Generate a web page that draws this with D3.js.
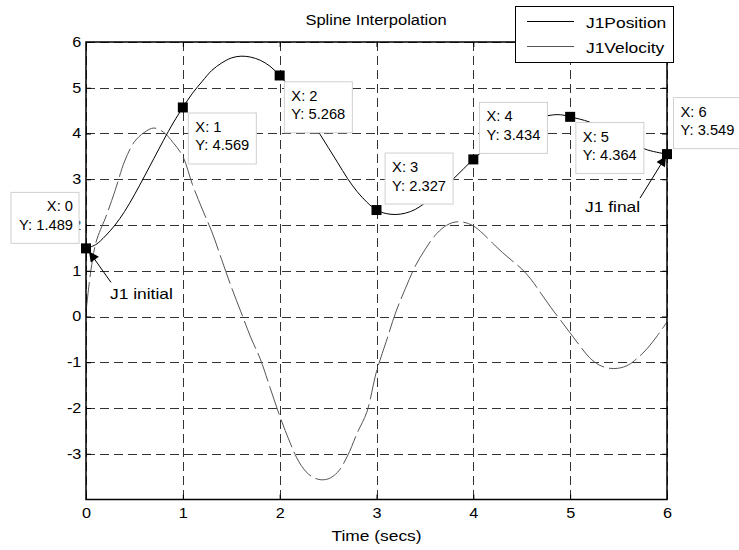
<!DOCTYPE html>
<html>
<head>
<meta charset="utf-8">
<script src="https://cdn.jsdelivr.net/npm/d3@7"></script>
<style>
  body { margin: 0; background: #fff; }
  text { font-family: "Liberation Sans", Arial, sans-serif; fill: #000; }
</style>
</head>
<body>
<svg width="739" height="550"></svg>
<script>
// knots of the spline (data tips)
const knotT = [0, 1, 2, 3, 4, 5, 6];
const knotPos = [1.489, 4.569, 5.268, 2.327, 3.434, 4.364, 3.549];

// J1Position
const posT = [0, 0.1, 0.2, 0.3, 0.4, 0.5, 0.6, 0.7, 0.8, 0.9, 1, 1.1, 1.2, 1.3, 1.4, 1.5, 1.6, 1.7, 1.8, 1.9,
  2, 2.1, 2.2, 2.3, 2.4, 2.5, 2.6, 2.7, 2.8, 2.9, 3, 3.1, 3.2, 3.3, 3.4, 3.5, 3.6, 3.7, 3.8, 3.9,
  4, 4.2, 4.4, 4.6, 4.8, 4.9, 5, 5.2, 5.4, 5.6, 5.8, 6];
const posVal = [1.489, 1.57, 1.76, 2.0, 2.3, 2.66, 3.05, 3.45, 3.85, 4.23, 4.569, 4.88, 5.14, 5.38, 5.54, 5.65, 5.69, 5.67, 5.6, 5.47,
  5.268, 5.02, 4.72, 4.38, 4.04, 3.7, 3.36, 3.02, 2.73, 2.5, 2.327, 2.25, 2.23, 2.26, 2.34, 2.48, 2.64, 2.83, 3.02, 3.23,
  3.434, 3.8, 4.1, 4.3, 4.4, 4.41, 4.364, 4.25, 4.04, 3.82, 3.64, 3.549];

// J1Velocity
const velT = [0, 0.05, 0.1, 0.15, 0.2, 0.3, 0.4, 0.5, 0.6, 0.7, 0.8, 0.9, 1, 1.1, 1.2, 1.3, 1.4, 1.5, 1.6, 1.7, 1.8, 1.9,
  2, 2.1, 2.2, 2.3, 2.4, 2.5, 2.6, 2.7, 2.8, 2.9, 3, 3.1, 3.2, 3.3, 3.4, 3.5, 3.6, 3.7, 3.8, 3.9,
  4, 4.1, 4.2, 4.3, 4.4, 4.5, 4.6, 4.7, 4.8, 4.9, 5, 5.1, 5.2, 5.3, 5.4, 5.5, 5.6, 5.7, 5.8, 5.9, 6];
const velVal = [0.1, 1.0, 1.6, 1.9, 2.15, 2.75, 3.4, 3.82, 4.02, 4.12, 4.03, 3.8, 3.5, 2.88, 2.35, 1.85, 1.25, 0.65, 0.1, -0.45, -0.93, -1.55,
  -2.17, -2.72, -3.18, -3.45, -3.56, -3.55, -3.4, -3.05, -2.55, -2.09, -1.2, -0.55, 0.1, 0.62, 1.1, 1.46, 1.76, 1.96, 2.06, 2.06,
  1.98, 1.81, 1.6, 1.4, 1.22, 1.04, 0.8, 0.5, 0.2, -0.08, -0.36, -0.64, -0.9, -1.06, -1.13, -1.13, -1.06, -0.9, -0.69, -0.42, -0.12];

const xTicks = [0, 1, 2, 3, 4, 5, 6];
const yTicks = [-3, -2, -1, 0, 1, 2, 3, 4, 5, 6];
const seriesNames = ["J1Position", "J1Velocity"];

const svg = d3.select("svg");
const x = d3.scaleLinear().domain([0, 6]).range([86, 667]);
const y = d3.scaleLinear().domain([-4, 6]).range([499.5, 42]);

const SX = 1.16; // the original text looks horizontally stretched

function label(g, px, py, str, size, anchor, sx) {
  return g.append("text")
    .attr("transform", "translate(" + px + "," + py + ") scale(" + sx + ",1)")
    .attr("text-anchor", anchor)
    .style("font-size", size + "px")
    .text(str);
}

// grid
const grid = svg.append("g").attr("stroke", "#333").attr("stroke-dasharray", "9,5").attr("stroke-width", 1);
grid.selectAll(".vg").data(xTicks).enter().append("line")
  .attr("x1", d => Math.round(x(d)) + 0.5).attr("x2", d => Math.round(x(d)) + 0.5)
  .attr("y1", y(6)).attr("y2", y(-4));
grid.selectAll(".hg").data(yTicks).enter().append("line")
  .attr("y1", d => Math.round(y(d)) + 0.5).attr("y2", d => Math.round(y(d)) + 0.5)
  .attr("x1", x(0)).attr("x2", x(6));

// curves
const line = d3.line().curve(d3.curveCatmullRom.alpha(0.5));
svg.append("path")
  .attr("d", line(velT.map((t, i) => [x(t), y(velVal[i])])))
  .attr("fill", "none").attr("stroke", "#555").attr("stroke-width", 1)
  .attr("stroke-dasharray", "30,5");
svg.append("path")
  .attr("d", line(posT.map((t, i) => [x(t), y(posVal[i])])))
  .attr("fill", "none").attr("stroke", "#000").attr("stroke-width", 1);

// axes, ticks inward on all four sides
const fmt = d => String(d);
const axL = d3.axisLeft(y).tickValues(yTicks).tickSizeInner(-5).tickSizeOuter(0).tickPadding(4).tickFormat(fmt);
const axB = d3.axisBottom(x).tickValues(xTicks).tickSizeInner(-5).tickSizeOuter(0).tickPadding(9).tickFormat(fmt);
const axR = d3.axisRight(y).tickValues(yTicks).tickSizeInner(-5).tickSizeOuter(0).tickFormat("");
const axT = d3.axisTop(x).tickValues(xTicks).tickSizeInner(-5).tickSizeOuter(0).tickFormat("");

function styleAxis(g) {
  g.select(".domain").remove();
  g.selectAll("line").attr("stroke", "#000");
  g.selectAll("text").style("font-size", "14px").attr("fill", "#000")
    .style("font-family", '"Liberation Sans", Arial, sans-serif');
}
svg.append("g").attr("transform", "translate(" + x(0) + ",0)").call(axL).call(styleAxis)
  .selectAll("text").attr("transform", "scale(" + SX + ",1)");
svg.append("g").attr("transform", "translate(0," + y(-4) + ")").call(axB).call(styleAxis)
  .selectAll("text").attr("transform", "scale(" + SX + ",1)");
svg.append("g").attr("transform", "translate(" + x(6) + ",0)").call(axR).call(styleAxis);
svg.append("g").attr("transform", "translate(0," + y(6) + ")").call(axT).call(styleAxis);

// box
svg.append("rect")
  .attr("x", x(0)).attr("y", y(6)).attr("width", x(6) - x(0)).attr("height", y(-4) - y(6))
  .attr("fill", "none").attr("stroke", "#000").attr("stroke-width", 1.5);

// knot markers
svg.selectAll(".knot").data(knotT).enter().append("rect")
  .attr("x", d => x(d) - 5).attr("y", (d, i) => y(knotPos[i]) - 5)
  .attr("width", 10).attr("height", 10).attr("fill", "#000");

// data tips: box offset from the marker
const tipOffset = [[-75, -56], [5.5, 5.5], [4.7, 6.3], [8.6, -57], [6.1, -57], [5.7, 5.7], [6.5, -56.5]];
knotT.forEach((t, i) => {
  const bx = x(t) + tipOffset[i][0], by = y(knotPos[i]) + tipOffset[i][1];
  const g = svg.append("g");
  g.append("rect").attr("x", bx).attr("y", by).attr("width", 68).attr("height", 51)
    .attr("fill", "#fff").attr("stroke", "#d0d0d0").attr("stroke-width", 1);
  const right = i === 0;
  const tx = right ? bx + 62 : bx + 7;
  const anchor = right ? "end" : "start";
  label(g, tx, by + 19, "X: " + t, 14, anchor, 1.05);
  label(g, tx, by + 37.5, "Y: " + knotPos[i].toFixed(3), 14, anchor, 1.05);
});

// annotations with arrows
svg.append("defs").append("marker")
  .attr("id", "head").attr("viewBox", "0 0 10 10").attr("refX", 10).attr("refY", 5)
  .attr("markerWidth", 13).attr("markerHeight", 10).attr("markerUnits", "userSpaceOnUse")
  .attr("orient", "auto")
  .append("path").attr("d", "M0,0 L10,5 L0,10 Z").attr("fill", "#000");

svg.append("line").attr("x1", x(0) + 25).attr("y1", y(knotPos[0]) + 34)
  .attr("x2", x(0) + 3).attr("y2", y(knotPos[0]) + 3)
  .attr("stroke", "#000").attr("stroke-width", 1).attr("marker-end", "url(#head)");
label(svg, x(0) + 24, y(knotPos[0]) + 51, "J1 initial", 15, "start", SX);

svg.append("line").attr("x1", x(6) - 27).attr("y1", y(knotPos[6]) + 44)
  .attr("x2", x(6) - 1).attr("y2", y(knotPos[6]) + 2)
  .attr("stroke", "#000").attr("stroke-width", 1).attr("marker-end", "url(#head)");
label(svg, x(6) - 82, y(knotPos[6]) + 58, "J1 final", 15, "start", SX);

// title and axis label
label(svg, 376, 25, "Spline Interpolation", 15, "middle", 1.1);
label(svg, x(3), 541, "Time (secs)", 15, "middle", SX);

// legend
const lg = svg.append("g");
lg.append("rect").attr("x", 515.5).attr("y", 6.5).attr("width", 158).attr("height", 56)
  .attr("fill", "#fff").attr("stroke", "#000").attr("stroke-width", 1);
const legendColors = ["#000", "#555"];
seriesNames.forEach((name, i) => {
  const ly = 21.5 + i * 25;
  lg.append("line").attr("x1", 527).attr("x2", 574).attr("y1", ly).attr("y2", ly)
    .attr("stroke", legendColors[i]).attr("stroke-width", 1);
  label(lg, 586, ly + 6, name, 15, "start", SX);
});
</script>
</body>
</html>
